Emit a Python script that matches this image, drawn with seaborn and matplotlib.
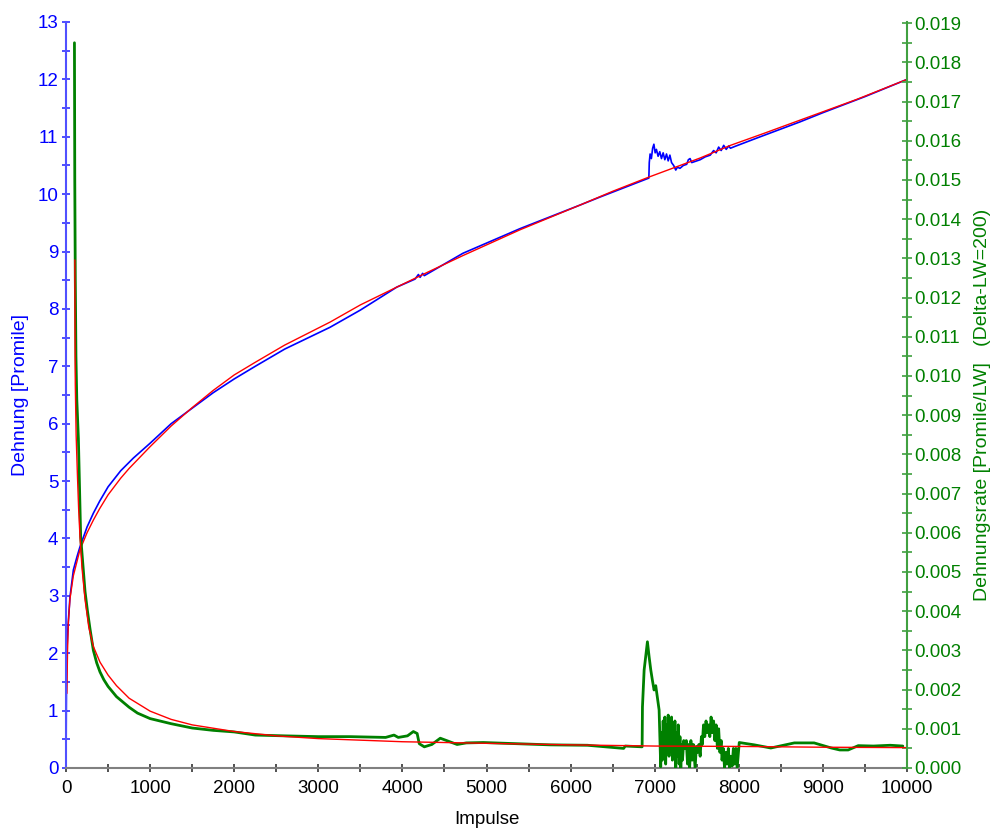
import numpy as np
import pandas as pd
import matplotlib
matplotlib.use("Agg")
import matplotlib.pyplot as plt
from matplotlib.ticker import MultipleLocator, FormatStrFormatter
import seaborn as sns

# Dehnung (linke Achse) - Messung
impulse_dehnung = [0, 3, 6, 12, 25, 47, 87, 130, 165, 250, 325, 400, 500, 650, 800, 1000,
                   1250, 1500, 1750, 2000, 2250, 2600, 3139, 3500, 3933, 4150, 4190,
                   4210, 4240, 4260, 4720, 5400, 6112, 6350, 6930,
                   6935, 6945, 6960, 6975, 6990, 7005, 7020, 7040, 7060, 7080, 7100,
                   7120, 7140, 7160, 7180, 7200, 7225, 7250, 7270, 7300, 7340, 7380,
                   7400, 7420, 7440, 7480, 7540, 7600, 7660, 7700, 7730, 7760, 7790,
                   7820, 7850, 7880, 7900, 7950, 8200, 8728, 9000, 9500, 10000]
dehnung = [0.0, 0.9, 1.6, 2.1, 2.5, 2.98, 3.45, 3.68, 3.85, 4.2, 4.44, 4.65, 4.9, 5.18,
           5.4, 5.66, 6.0, 6.27, 6.54, 6.78, 7.0, 7.3, 7.68, 7.98, 8.38, 8.52, 8.6,
           8.55, 8.62, 8.58, 8.97, 9.4, 9.81, 9.95, 10.28,
           10.55, 10.7, 10.62, 10.8, 10.87, 10.72, 10.78, 10.66, 10.74, 10.62, 10.72,
           10.6, 10.7, 10.58, 10.68, 10.55, 10.5, 10.42, 10.47, 10.45, 10.5, 10.52,
           10.6, 10.62, 10.55, 10.57, 10.6, 10.65, 10.68, 10.76, 10.72, 10.82, 10.76,
           10.85, 10.78, 10.84, 10.8, 10.83, 10.97, 11.26, 11.42, 11.7, 12.0]

# Dehnung - Ausgleichskurve
impulse_fit_d = [10, 18, 28, 47, 87, 165, 250, 325, 400, 500, 650, 750, 1000, 1250, 1500,
                 1750, 2000, 2250, 2600, 3139, 3500, 3933, 4300, 4720, 5400, 6112, 6500,
                 6935, 7540, 7900, 8300, 8728, 9400, 10000]
fit_dehnung = [1.3, 2.05, 2.55, 2.95, 3.35, 3.8, 4.1, 4.32, 4.52, 4.76, 5.05, 5.22, 5.6,
               5.96, 6.28, 6.58, 6.85, 7.07, 7.37, 7.77, 8.07, 8.38, 8.64, 8.93, 9.38,
               9.81, 10.05, 10.3, 10.63, 10.85, 11.06, 11.29, 11.65, 12.0]

# Dehnungsrate (rechte Achse) - Messung
impulse_rate = [100, 104, 110, 118, 128, 147, 174, 200, 226, 255, 285, 325, 365, 404,
                450, 500, 600, 750, 850, 1000, 1250, 1500, 1750, 2000, 2250, 2600,
                3000, 3375, 3800, 3900, 3950, 4060, 4130, 4175, 4200, 4260, 4350, 4450,
                4550, 4650, 4760, 4960, 5360, 5760, 6200, 6630, 6650, 6850, 6854,
                6874, 6913, 6933, 6953, 6972, 6992, 7012, 7032, 7052, 7071, 7080,
                7090, 7100, 7110, 7120, 7130, 7140, 7150, 7160, 7170, 7180, 7190,
                7200, 7210, 7220, 7230, 7240, 7250, 7260, 7270, 7280, 7290, 7300,
                7310, 7320, 7330, 7345, 7360, 7375, 7390, 7400, 7415, 7430, 7445,
                7460, 7480, 7495, 7510, 7525, 7540, 7555, 7565, 7580, 7595, 7610,
                7625, 7640, 7655, 7670, 7685, 7700, 7715, 7730, 7745, 7760, 7775,
                7790, 7800, 7815, 7830, 7845, 7860, 7875, 7890, 7905, 7920, 7935,
                7950, 7965, 7980, 7995, 8005, 8185, 8380, 8660, 8895, 9100, 9200,
                9300, 9420, 9600, 9800, 9950]
rate = [0.0185, 0.0150, 0.0125, 0.0105, 0.0094, 0.0084, 0.0059, 0.0052, 0.0045, 0.0040,
        0.00355, 0.0030, 0.00268, 0.00245, 0.00225, 0.00208, 0.00182, 0.00155, 0.0014,
        0.00126, 0.00113, 0.00102, 0.00096, 0.00092, 0.00084, 0.00082, 0.0008, 0.0008,
        0.00078, 0.00084, 0.00078, 0.00082, 0.00093, 0.00088, 0.00062, 0.00054, 0.0006,
        0.00076, 0.00068, 0.0006, 0.00064, 0.00065, 0.00062, 0.00059, 0.00058, 0.0005,
        0.00056, 0.00054, 0.00156, 0.0025, 0.00322, 0.00284, 0.0025, 0.00224, 0.00199,
        0.0021, 0.0018, 0.00148, 0.00003, 0.0009, 0.0002, 0.0012, 0.0004, 0.0013,
        0.0001, 0.0011, 0.0005, 0.00135, 0.0003, 0.0012, 0.0006, 0.0013, 0.0002,
        0.001, 0.0004, 0.0012, 0.0, 0.0009, 0.0003, 0.0011, 0.0001, 0.0008, 0.0,
        0.0006, 0.0002, 0.0007, 0.0005, 0.0007, 0.0001, 0.0006, 0.0, 0.0007, 0.0002,
        0.0006, 0.0, 0.00055, 0.0004, 0.0006, 0.0003, 0.0008, 0.0006, 0.0011, 0.0008,
        0.0012, 0.0009, 0.0011, 0.0008, 0.0013, 0.0009, 0.0012, 0.0007, 0.0011,
        0.0005, 0.001, 0.0004, 0.0007, 0.0002, 0.0005, 0.0, 0.0004, 0.0001, 0.0005,
        0.0, 0.0003, 0.00005, 0.0005, 0.0001, 0.0005, 0.0, 0.0004, 0.00065, 0.00059,
        0.00051, 0.00064, 0.00064, 0.00051, 0.00046, 0.00046, 0.00057, 0.00056,
        0.00058, 0.00056]

# Dehnungsrate - Ausgleichskurve
impulse_fit_r = [105, 107, 110, 120, 135, 150, 166, 190, 226, 270, 325, 404, 500, 600,
                 750, 1000, 1250, 1500, 2000, 2500, 3000, 4000, 5000, 6000, 7000, 8000,
                 9000, 10000]
fit_rate = [0.01296, 0.0112, 0.0098, 0.0085, 0.0075, 0.0066, 0.0059, 0.0051, 0.0043,
            0.0036, 0.0031, 0.0027, 0.00237, 0.0021, 0.00178, 0.00145, 0.00124, 0.0011,
            0.00093, 0.00082, 0.00075, 0.00067, 0.00063, 0.00059, 0.00056, 0.00055,
            0.00053, 0.00052]

df_d = pd.DataFrame({"Impulse": impulse_dehnung, "Dehnung": dehnung})
df_fd = pd.DataFrame({"Impulse": impulse_fit_d, "Dehnung": fit_dehnung})
df_r = pd.DataFrame({"Impulse": impulse_rate, "Rate": rate})
df_fr = pd.DataFrame({"Impulse": impulse_fit_r, "Rate": fit_rate})

sns.set_style("white")
plt.rcParams["font.family"] = ["Liberation Sans", "DejaVu Sans"]

blau = "#0000ff"
gruen = "#008000"

fig = plt.figure(figsize=(9.9, 8.3), dpi=100)
ax = fig.add_axes([0.0667, 0.0747, 0.8495, 0.8988])
ax2 = ax.twinx()

sns.lineplot(data=df_d, x="Impulse", y="Dehnung", ax=ax, color=blau, lw=1.2,
             estimator=None, sort=False)
sns.lineplot(data=df_fd, x="Impulse", y="Dehnung", ax=ax, color="red", lw=1.0,
             estimator=None, sort=False)
sns.lineplot(data=df_r, x="Impulse", y="Rate", ax=ax2, color=gruen, lw=2.0,
             estimator=None, sort=False)
sns.lineplot(data=df_fr, x="Impulse", y="Rate", ax=ax2, color="red", lw=1.0,
             estimator=None, sort=False)

ax.set_xlim(0, 10000)
ax.set_ylim(0, 13)
ax2.set_ylim(0, 0.01903)

ax.xaxis.set_major_locator(MultipleLocator(1000))
ax.xaxis.set_minor_locator(MultipleLocator(500))
ax.yaxis.set_major_locator(MultipleLocator(1))
ax.yaxis.set_minor_locator(MultipleLocator(0.5))
ax2.yaxis.set_major_locator(MultipleLocator(0.001))
ax2.yaxis.set_minor_locator(MultipleLocator(0.0005))
ax2.yaxis.set_major_formatter(FormatStrFormatter("%.3f"))

for a in (ax, ax2):
    a.spines["top"].set_visible(False)
    a.grid(False)
ax.spines["right"].set_visible(False)
ax2.spines["left"].set_visible(False)
ax2.spines["bottom"].set_visible(False)
ax.spines["left"].set_color("#5050ff")
ax.spines["bottom"].set_color("#808080")
ax2.spines["right"].set_color("#40a040")
for s in (ax.spines["left"], ax.spines["bottom"], ax2.spines["right"]):
    s.set_linewidth(1.5)

ax.tick_params(axis="y", which="both", direction="inout", length=6, width=1.2,
               colors="#3030ff", labelcolor=blau, labelsize=13.5, pad=2.5, left=True)
ax.tick_params(axis="x", which="both", direction="inout", length=6, width=1.2,
               colors="#333333", labelcolor="black", labelsize=13.5, pad=6, bottom=True)
ax2.tick_params(axis="y", which="both", direction="inout", length=7, width=1.2,
                colors="#40a040", labelcolor=gruen, labelsize=13.5, pad=2, right=True)

ax.set_xlabel("Impulse", fontsize=13.5, color="black")
ax.set_ylabel("Dehnung [Promile]", fontsize=14, color=blau)
ax2.set_ylabel("Dehnungsrate [Promile/LW]   (Delta-LW=200)", fontsize=14, color=gruen)
ax.xaxis.set_label_coords(0.5006, -0.0576)
ax.yaxis.set_label_coords(-0.044, 0.5)
ax2.yaxis.set_label_coords(1.08, 0.487)

fig.savefig("out.png", dpi=100)
